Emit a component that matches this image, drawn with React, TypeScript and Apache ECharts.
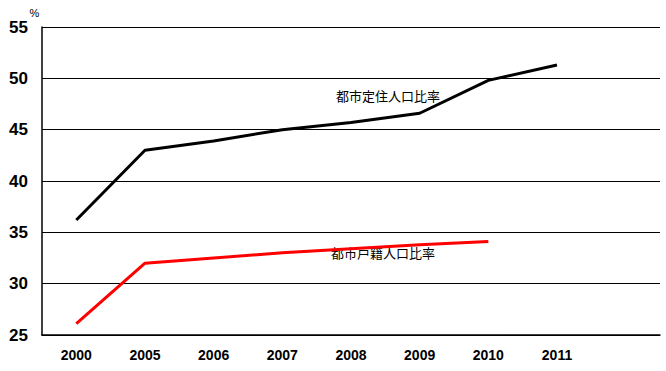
import React, { useEffect, useRef } from "react";
import * as echarts from "echarts";

const categories = ["2000", "2005", "2006", "2007", "2008", "2009", "2010", "2011", ""];
const residentRate = [36.2, 43.0, 43.9, 45.0, 45.7, 46.6, 49.8, 51.3, null];
const registeredRate = [26.1, 32.0, 32.5, 33.0, 33.4, 33.8, 34.1, null, null];
const residentLabel = "都市定住人口比率";
const registeredLabel = "都市戸籍人口比率";

export default function App() {
  const ref = useRef<HTMLDivElement>(null);
  useEffect(() => {
    if (!ref.current) return;
    const chart = echarts.init(ref.current, null, { renderer: "svg" });
    chart.setOption({
      animation: false,
      backgroundColor: "#ffffff",
      grid: { left: 42, right: 6, top: 27, bottom: 36 },
      xAxis: {
        type: "category",
        data: categories,
        boundaryGap: true,
        axisLine: { lineStyle: { color: "#000", width: 1.5 } },
        axisTick: { inside: true, length: 4, lineStyle: { color: "#000", width: 1 } },
        axisLabel: {
          color: "#000",
          fontFamily: "Liberation Sans, Arial, sans-serif",
          fontWeight: "bold",
          fontSize: 14,
          margin: 13,
        },
      },
      yAxis: {
        type: "value",
        min: 25,
        max: 55,
        interval: 5,
        name: "%",
        nameGap: 9,
        nameTextStyle: { color: "#000", fontSize: 11, fontFamily: "Liberation Sans, Arial, sans-serif", padding: [0, 15, 0, 0] },
        axisLine: { show: true, lineStyle: { color: "#000", width: 1.5 } },
        axisTick: { show: false },
        splitLine: { lineStyle: { color: "#000", width: 1 } },
        axisLabel: {
          color: "#000",
          fontFamily: "Liberation Sans, Arial, sans-serif",
          fontWeight: "bold",
          fontSize: 17,
          margin: 14,
        },
      },
      series: [
        {
          type: "line",
          data: residentRate,
          symbol: "none",
          lineStyle: { color: "#000", width: 3 },
        },
        {
          type: "line",
          data: registeredRate,
          symbol: "none",
          lineStyle: { color: "#ff0000", width: 3 },
        },
      ],
      graphic: [
        {
          type: "text",
          left: 336,
          top: 89,
          style: { text: residentLabel, fill: "#000", font: "13px 'Noto Sans CJK JP', sans-serif" },
        },
        {
          type: "text",
          left: 331,
          top: 246,
          style: { text: registeredLabel, fill: "#000", font: "13px 'Noto Sans CJK JP', sans-serif" },
        },
      ],
    });
    return () => chart.dispose();
  }, []);
  return <div ref={ref} style={{ position: "fixed", left: 0, top: 0, width: 666, height: 371 }} />;
}
